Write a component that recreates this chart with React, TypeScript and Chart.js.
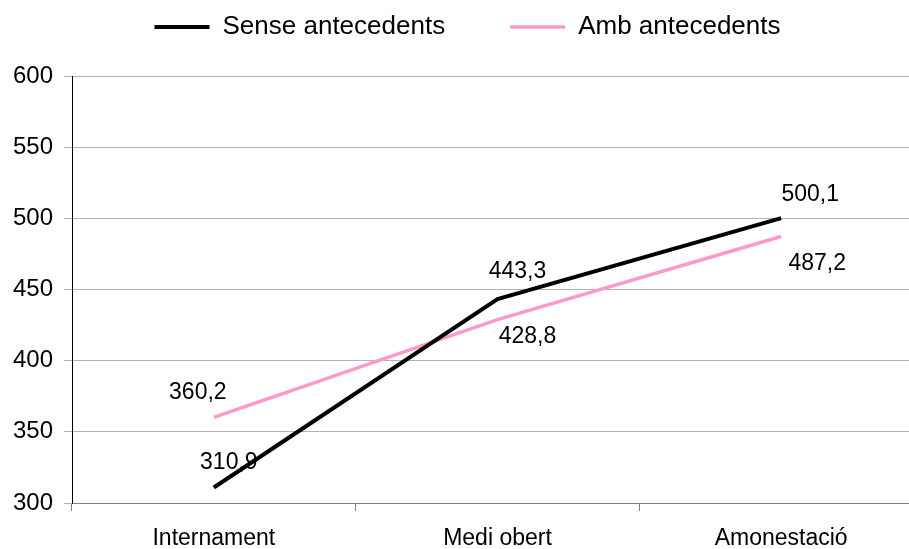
import React, { useEffect, useRef } from "react";
import { Chart, registerables } from "chart.js";

Chart.register(...registerables);

const categories = ["Internament", "Medi obert", "Amonestació"];
const senseAntecedents = [310.9, 443.3, 500.1];
const ambAntecedents = [360.2, 428.8, 487.2];
const yTicks = [300, 350, 400, 450, 500, 550, 600];

const FONT = "'Liberation Sans', Arial, sans-serif";

// label offsets (style only) relative to each point: [dx, dy]
const labelOffsets = [
  [[15, -25], [20, -27], [29, -24]],
  [[-16, -25], [30, 17], [36, 27]],
];

const fmt = (v: number) => v.toFixed(1).replace(".", ",");

const dataLabelPlugin = {
  id: "dataLabels",
  afterDatasetsDraw(chart: any) {
    const ctx = chart.ctx;
    ctx.save();
    ctx.font = `23px ${FONT}`;
    ctx.fillStyle = "#000";
    ctx.textAlign = "center";
    ctx.textBaseline = "middle";
    chart.data.datasets.forEach((ds: any, di: number) => {
      const meta = chart.getDatasetMeta(di);
      meta.data.forEach((pt: any, i: number) => {
        const [dx, dy] = labelOffsets[di][i];
        ctx.fillText(fmt(ds.data[i]), pt.x + dx, pt.y + dy);
      });
    });
    ctx.restore();
  },
};

const legendSpacePlugin = {
  id: "legendSpace",
  beforeInit(chart: any) {
    const legend = chart.legend;
    if (!legend) return;
    const orig = legend.fit;
    legend.fit = function () {
      orig.call(this);
      this.height += 26;
    };
  },
};

export default function App() {
  const ref = useRef<HTMLCanvasElement>(null);
  useEffect(() => {
    if (!ref.current) return;
    const chart = new Chart(ref.current, {
      type: "line",
      data: {
        labels: categories,
        datasets: [
          {
            label: "Sense antecedents",
            data: senseAntecedents,
            borderColor: "#000000",
            backgroundColor: "#000000",
            borderWidth: 4,
            pointRadius: 0,
            tension: 0,
          },
          {
            label: "Amb antecedents",
            data: ambAntecedents,
            borderColor: "#FF99CC",
            backgroundColor: "#FF99CC",
            borderWidth: 3.5,
            pointRadius: 0,
            tension: 0,
          },
        ],
      },
      options: {
        responsive: false,
        animation: false,
        layout: { padding: { top: -51, right: 0, left: 12, bottom: 0 } },
        plugins: {
          legend: {
            position: "top",
            labels: {
              usePointStyle: true,
              pointStyle: "line",
              pointStyleWidth: 55,
              boxHeight: 4,
              padding: 65,
              color: "#000",
              font: { family: FONT, size: 26 },
            },
          },
          tooltip: { enabled: false },
        },
        scales: {
          x: {
            type: "category",
            offset: true,
            grid: {
              offset: true,
              drawOnChartArea: false,
              drawTicks: true,
              tickLength: 8,
              color: "#808080",
            },
            border: { color: "#808080", width: 1 },
            ticks: {
              color: "#000",
              font: { family: FONT, size: 23 },
              padding: 14,
              maxRotation: 0,
            },
            afterFit(scale: any) {
              scale.height = 46;
            },
          },
          y: {
            min: 300,
            max: 600,
            afterBuildTicks(scale: any) {
              scale.ticks = yTicks.map((v) => ({ value: v }));
            },
            grid: {
              color: "#b3b3b3",
              lineWidth: 1,
              drawTicks: true,
              tickLength: 8,
            },
            border: { color: "#000", width: 1 },
            ticks: {
              color: "#000",
              font: { family: FONT, size: 24 },
              padding: 11,
            },
            afterFit(scale: any) {
              scale.width = 60;
            },
          },
        },
      },
      plugins: [dataLabelPlugin, legendSpacePlugin],
    });
    return () => chart.destroy();
  }, []);
  return (
    <div
      style={{
        position: "absolute",
        left: 0,
        top: 0,
        width: 909,
        height: 549,
        overflow: "hidden",
        background: "#fff",
      }}
    >
      <canvas ref={ref} width={923} height={549} style={{ display: "block" }} />
    </div>
  );
}
